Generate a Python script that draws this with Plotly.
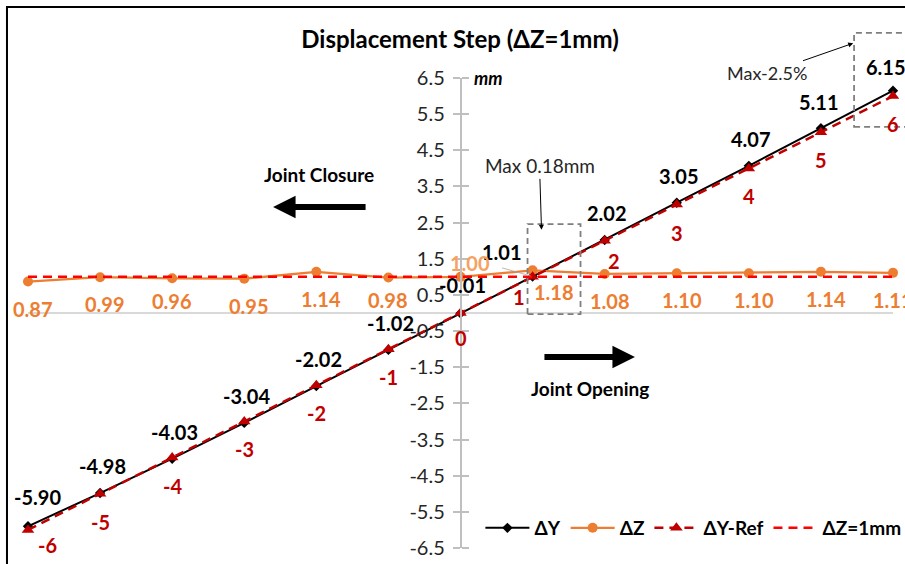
import plotly.graph_objects as go

# ---------------- data ----------------
steps = [-6, -5, -4, -3, -2, -1, 0, 1, 2, 3, 4, 5, 6]
delta_y = [-5.90, -4.98, -4.03, -3.04, -2.02, -1.02, -0.01, 1.01, 2.02, 3.05, 4.07, 5.11, 6.15]
delta_z = [0.87, 0.99, 0.96, 0.95, 1.14, 0.98, 1.00, 1.18, 1.08, 1.10, 1.10, 1.14, 1.11]
delta_y_ref = [-6, -5, -4, -3, -2, -1, 0, 1, 2, 3, 4, 5, 6]
delta_z_ref = [1, 1, 1, 1, 1, 1, 1, 1, 1, 1, 1, 1, 1]
y_tick_vals = [6.5, 5.5, 4.5, 3.5, 2.5, 1.5, 0.5, -0.5, -1.5, -2.5, -3.5, -4.5, -5.5, -6.5]
y_tick_text = ["6.5", "5.5", "4.5", "3.5", "2.5", "1.5", "0.5", "-0.5", "-1.5", "-2.5",
               "-3.5", "-4.5", "-5.5", "-6.5"]

FONT = "Lato"
BLACK = "#000000"
ORANGE = "#ED7D31"
DARKRED = "#C00000"
RED = "#FF0000"
AXIS_GRAY = "#BFBFBF"

fig = go.Figure()

fig.add_trace(go.Scatter(x=steps, y=delta_y, name="ΔY", mode="lines+markers",
                         line=dict(color=BLACK, width=2),
                         marker=dict(symbol="diamond", size=8, color=BLACK),
                         cliponaxis=False))
fig.add_trace(go.Scatter(x=steps, y=delta_z, name="ΔZ", mode="lines+markers",
                         line=dict(color=ORANGE, width=2.3),
                         marker=dict(symbol="circle", size=10, color=ORANGE),
                         cliponaxis=False))
fig.add_trace(go.Scatter(x=steps, y=delta_y_ref, name="ΔY-Ref", mode="lines+markers",
                         line=dict(color=DARKRED, width=2.5, dash="9px,6px"),
                         marker=dict(symbol="triangle-up", size=11, color=DARKRED),
                         cliponaxis=False))
fig.add_trace(go.Scatter(x=steps, y=delta_z_ref, name="ΔZ=1mm", mode="lines",
                         line=dict(color=RED, width=2.5, dash="9px,6px"),
                         cliponaxis=False))
# helper (empty) trace so the overlay axis for the right-hand tick marks is drawn
fig.add_trace(go.Scatter(x=[None], y=[None], yaxis="y2", showlegend=False, hoverinfo="skip"))

# ---------------- data labels ----------------
ann = []
LBL = 20


def add_labels(values, fmt, color, default, overrides, extra=None):
    for i, (xv, yv) in enumerate(zip(steps, values)):
        dx, dy = overrides.get(i, default)
        a = dict(x=xv, y=yv, xref="x", yref="y", text=fmt(yv), showarrow=False,
                 xshift=dx, yshift=-dy, xanchor="center", yanchor="middle",
                 font=dict(family=FONT, size=LBL, color=color, weight="bold"))
        if extra and i in extra:
            a.update(extra[i])
        ann.append(a)


add_labels(delta_y, lambda v: f"{v:.2f}", BLACK, (2, -27),
           {0: (9, -29), 6: (2, -28), 7: (-31, -24), 11: (-2, -26), 12: (-7, -24)})
add_labels(delta_z, lambda v: f"{v:.2f}", ORANGE, (5, 27),
           {2: (0, 23), 5: (0, 22), 6: (9, -14), 7: (21, 22), 12: (0, 27)},
           extra={6: dict(font=dict(family=FONT, size=LBL, color="#F5A263", weight="bold"))})
add_labels(delta_y_ref, lambda v: f"{v:d}", DARKRED, (0, 28),
           {0: (19, 15), 6: (0, 25), 7: (-14, 20), 8: (9, 20)})

# leader line for the 1.01 label
ann.append(dict(x=steps[7], y=delta_y[7], xref="x", yref="y", ax=-32, ay=-9,
                text="", showarrow=True, arrowhead=0, arrowwidth=0.8,
                arrowcolor="#A6A6A6", standoff=2))

# axis unit
ann.append(dict(x=0, y=6.5, xref="x", yref="y", text="<b><i>mm</i></b>", showarrow=False,
                xanchor="left", yanchor="middle", xshift=11,
                font=dict(family=FONT, size=18, color=BLACK)))

# big direction arrows
ann.append(dict(x=-2.6, y=2.93, xref="x", yref="y", ax=94, ay=0, text="",
                showarrow=True, arrowhead=2, arrowsize=0.75, arrowwidth=6,
                arrowcolor=BLACK))
ann.append(dict(x=2.42, y=-1.22, xref="x", yref="y", ax=-92, ay=0, text="",
                showarrow=True, arrowhead=2, arrowsize=0.75, arrowwidth=6,
                arrowcolor=BLACK))
ann.append(dict(x=-1.97, y=3.84, xref="x", yref="y", text="Joint Closure", showarrow=False,
                font=dict(family=FONT, size=19, color=BLACK, weight="bold")))
ann.append(dict(x=1.80, y=-2.09, xref="x", yref="y", text="Joint Opening", showarrow=False,
                font=dict(family=FONT, size=19, color=BLACK, weight="bold")))

# callouts
ann.append(dict(x=1.124, y=2.30, xref="x", yref="y", ax=-2, ay=-64,
                text="Max 0.18mm", showarrow=True, arrowhead=2, arrowsize=1,
                arrowwidth=1, arrowcolor=BLACK,
                font=dict(family=FONT, size=19, color="#262626")))
ann.append(dict(x=0.954, y=1.074, xref="paper", yref="paper", ax=-86, ay=30,
                text="Max-2.5%", showarrow=True, arrowhead=2, arrowsize=1,
                arrowwidth=1, arrowcolor=BLACK,
                font=dict(family=FONT, size=18, color="#262626")))

shapes = [
    # outer chart frame
    dict(type="rect", xref="paper", yref="paper", x0=-0.0243, x1=1.2, y0=-0.2, y1=1.151,
         line=dict(color=BLACK, width=2), layer="below"),
    # dashed highlight boxes
    dict(type="rect", xref="x", yref="y", x0=0.93, x1=1.665, y0=-0.03, y1=2.46,
         line=dict(color="#7F7F7F", width=1.8, dash="6px,4px")),
    dict(type="rect", xref="paper", yref="paper", x0=0.955, x1=1.2, y0=0.896, y1=1.096,
         line=dict(color="#7F7F7F", width=1.8, dash="6px,4px")),
]

fig.update_layout(
    width=905, height=564,
    margin=dict(l=28, r=12, t=78, b=16, autoexpand=False),
    paper_bgcolor="white", plot_bgcolor="white",
    title=dict(text="<b>Displacement Step (ΔZ=1mm)</b>", x=460 / 905, xanchor="center",
               y=1 - 40 / 564, yanchor="middle",
               font=dict(family=FONT, size=24, color=BLACK)),
    xaxis=dict(range=[-6, 6], showticklabels=False, ticks="", showgrid=False,
               zeroline=False, showline=False),
    yaxis=dict(range=[-6.5, 6.5], anchor="free", position=0.5, tickvals=y_tick_vals,
               ticktext=y_tick_text, ticks="outside", ticklen=7, tickwidth=1.5,
               tickcolor=AXIS_GRAY, showline=True, linecolor=AXIS_GRAY, linewidth=1.5,
               showgrid=False, zeroline=True, zerolinecolor="#D9D9D9", zerolinewidth=1.5,
               ticklabelstandoff=4,
               tickfont=dict(family=FONT, size=20, color="#262626")),
    yaxis2=dict(range=[-6.5, 6.5], overlaying="y", anchor="free", position=0.5,
                side="right", tickvals=y_tick_vals, ticks="outside", ticklen=7,
                tickwidth=1.5, tickcolor=AXIS_GRAY, showticklabels=False, showline=False,
                showgrid=False, zeroline=False),
    legend=dict(orientation="h", x=0.523, y=0.0426, xanchor="left", yanchor="middle",
                bgcolor="rgba(255,255,255,0)", itemwidth=44,
                font=dict(family=FONT, size=19, color=BLACK, weight="bold")),
    annotations=ann,
    shapes=shapes,
    showlegend=True,
)

fig.write_html("out.html", config={"displayModeBar": False},
               post_script="document.body.style.margin='0px';")
